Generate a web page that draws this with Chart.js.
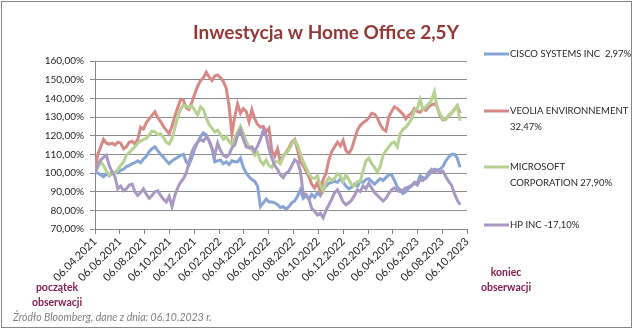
<!DOCTYPE html>
<html>
<head>
<meta charset="utf-8">
<script src="https://cdn.jsdelivr.net/npm/chart.js@4.4.0/dist/chart.umd.min.js"></script>
<style>
  html, body { margin: 0; padding: 0; background: #fff; }
  canvas { display: block; }
</style>
</head>
<body>
<canvas id="wykres" width="634" height="330"></canvas>
<script>
// Inwestycja w Home Office 2,5Y - notowania tygodniowe od 06.04.2021 (start = 100%)

const etykietyOsiX = ['06.04.2021', '06.06.2021', '06.08.2021', '06.10.2021', '06.12.2021', '06.02.2022',
  '06.04.2022', '06.06.2022', '06.08.2022', '06.10.2022', '06.12.2022', '06.02.2023',
  '06.04.2023', '06.06.2023', '06.08.2023', '06.10.2023'];

const nazwySpolek = ['CISCO SYSTEMS INC  2,97%', 'VEOLIA ENVIRONNEMENT 32,47%', 'MICROSOFT CORPORATION 27,90%', 'HP INC -17,10%'];
// legenda w liniach tak jak na oryginale
const legendaLinie = [['CISCO SYSTEMS INC  2,97%'], ['VEOLIA ENVIRONNEMENT', '32,47%'], ['MICROSOFT', 'CORPORATION 27,90%'], ['HP INC -17,10%']];
const kolory = ['#86a5d5', '#d68a87', '#b7d190', '#a898c4'];

const cisco = [101, 100, 99, 98, 99.5, 98.5, 100, 100.5, 100, 101.5,
  102, 103.5, 104, 105, 105.5, 106.5, 105.5, 107.5, 109, 111.5,
  113, 114, 112, 110, 108.5, 106.5, 105, 106.5, 107.5, 108.5,
  109.5, 110, 106, 104.5, 108.5, 113, 116.5, 119.5, 121.5, 120.5,
  117, 113, 106, 106.5, 107, 105, 106, 104.5, 106.5, 106,
  106, 108, 103, 100, 98, 96.5, 95.5, 93, 82, 84,
  86, 84.5, 84.5, 84, 83, 81.5, 82, 80.5, 82, 84,
  85, 87.5, 91, 86.5, 88, 86, 88.5, 87, 89.5, 88,
  91, 93, 94.5, 95, 95.5, 95, 97, 95, 93, 91.5,
  92.5, 94, 93, 95.5, 95, 96.5, 97, 95.5, 94, 95.5,
  97, 96, 97.5, 99, 99, 96, 92.5, 91, 89, 90,
  92, 93, 95, 94.5, 98.5, 97.5, 97, 99, 100.5, 102,
  101.5, 102, 103.5, 106.5, 108.5, 110, 110, 108, 103];

const veolia = [101.4, 110, 114, 118, 116, 115.5, 116, 115, 116.5, 116,
  113, 114, 116.5, 117, 115.5, 118, 124.5, 123.5, 127, 129,
  131, 132.8, 129.5, 127.5, 125, 123, 121, 125, 130.5, 135,
  139.5, 139, 135, 134, 138, 142.5, 146.5, 149.5, 151, 154,
  151.5, 149.5, 152, 152.5, 151, 149, 145.5, 136, 121, 130,
  137, 132, 134.5, 133, 127.5, 134, 129, 126, 124.5, 125,
  122, 124, 112, 109, 113, 106, 109, 111, 113.5, 116.5,
  118, 112.5, 106, 104, 101, 98, 94, 92, 95, 90,
  96.5, 100, 107, 111.5, 114, 116.5, 114.5, 117.5, 112, 110.5,
  113, 118, 123, 125.5, 127, 128, 129.5, 132, 131.5, 129.5,
  126, 123.5, 122.5, 130, 133, 135.5, 134.5, 133, 131.5, 129,
  131, 132, 134.5, 133, 132.5, 134.5, 133.5, 135.5, 136.5, 137,
  135.5, 130.5, 128.5, 129, 130.5, 132, 134, 136, 132];

const microsoft = [100.5, 103, 106, 104, 101, 99, 100.5, 100, 102, 104,
  106, 109.5, 111, 112.5, 114, 116, 117, 118, 118.5, 120.5,
  122.5, 122, 120.5, 121, 119, 116.5, 115.5, 118.5, 124, 130,
  134, 136.5, 136, 135, 136, 133.5, 131, 135.5, 134, 129.5,
  126, 124, 122, 123, 120.5, 118, 119.5, 117, 115, 118.5,
  122, 125, 121.5, 117, 114, 112.5, 109.5, 111, 106.5, 104.5,
  107, 104, 103, 106, 106, 105, 109, 110.5, 112.5, 115.5,
  117.5, 115, 110.5, 106, 103, 99.5, 97.5, 97, 98.5, 93.5,
  90.5, 95, 97.5, 96, 97, 99.5, 98.5, 95.5, 99, 96.5,
  93.5, 93, 95.5, 95.5, 101, 106.5, 108, 105, 103, 100.5,
  103.5, 109.5, 112, 114, 116, 116.5, 114, 121, 123.5, 124.5,
  126.5, 129, 133.5, 134.5, 139.5, 134, 135.5, 137, 139, 143.5,
  135, 131.5, 129, 128.5, 131, 132, 134, 136, 128];

const hp = [100.5, 104.5, 107, 108.5, 109.5, 104, 100.5, 98, 91.5, 93,
  90.5, 91.5, 93.5, 94, 90, 88, 89.5, 91.5, 88.5, 86.5,
  88, 90, 90.5, 88, 86, 84.5, 87.5, 82, 88, 92,
  95, 97, 100, 106, 111.5, 114.5, 116.5, 118, 117, 119.5,
  117.5, 113.5, 109.5, 116, 112, 109.5, 108.5, 110, 113.5, 115,
  120, 123, 118, 114, 113.5, 114, 111.5, 114.5, 118, 123,
  120, 113, 108, 104, 102, 99, 97.5, 100, 101, 104,
  107, 106, 101, 89, 88.5, 86, 81, 79.5, 77.5, 78.5,
  76, 80, 83, 86, 89.5, 91, 88, 84.5, 83, 84,
  85.5, 88, 91, 90, 93, 91.5, 94.5, 92, 89.5, 88,
  86.5, 85, 86.5, 89, 91, 92, 90.5, 90, 91, 92,
  92.5, 93.5, 94.5, 93.5, 96.5, 96, 97.5, 100.5, 102, 100.5,
  101.5, 100.5, 101, 98, 95.5, 93.5, 89, 85.5, 83];

const serie = [cisco, veolia, microsoft, hp];

// dni od poczatku obserwacji
function dzien(s) {
  const [d, m, r] = s.split('.').map(Number);
  return Date.UTC(r, m - 1, d) / 86400000;
}
const start = dzien(etykietyOsiX[0]);
const dniTickow = etykietyOsiX.map(s => dzien(s) - start);

const ozdoby = {
  id: 'ozdoby',
  afterDraw(chart) {
    const c = chart.ctx;
    c.save();
    // ramka
    c.strokeStyle = '#868686';
    c.lineWidth = 1;
    c.strokeRect(1.5, 1.5, 630, 326);

    // tytul
    c.fillStyle = '#953735';
    c.font = 'bold 19px Lato';
    c.textAlign = 'center';
    c.textBaseline = 'middle';
    c.fillText('Inwestycja w Home Office 2,5Y', 326, 33);

    // legenda
    const yLeg = [54, 111, 167, 225];
    c.font = '9.5px Lato';
    c.textAlign = 'left';
    legendaLinie.forEach((linie, i) => {
      c.strokeStyle = kolory[i];
      c.lineWidth = 3;
      c.beginPath();
      c.moveTo(484, yLeg[i]);
      c.lineTo(509, yLeg[i]);
      c.stroke();
      c.fillStyle = '#262626';
      linie.forEach((t, j) => c.fillText(t, 510, yLeg[i] + j * 16));
    });

    // poczatek / koniec
    c.fillStyle = '#85204f';
    c.font = 'bold 10.5px Lato';
    c.textAlign = 'center';
    c.fillText('początek', 57, 288);
    c.fillText('obserwacji', 57, 303);
    c.fillText('koniec', 506, 273);
    c.fillText('obserwacji', 506, 288);

    // zrodlo
    c.fillStyle = '#7f7f7f';
    c.font = 'italic 10.5px Lato';
    c.textAlign = 'left';
    c.fillText('Źródło Bloomberg, dane z dnia: 06.10.2023 r.', 13, 318);
    c.restore();
  }
};

const ctx = document.getElementById('wykres');
new Chart(ctx, {
  type: 'line',
  data: {
    datasets: serie.map((s, i) => ({
      label: nazwySpolek[i],
      data: s.map((v, k) => ({ x: k * 7, y: v })),
      borderColor: kolory[i],
      borderWidth: 3,
      pointRadius: 0,
      tension: 0,
      order: 4 - i
    }))
  },
  options: {
    responsive: false,
    animation: false,
    layout: { padding: { left: 0, right: 167, top: 61, bottom: 41 } },
    plugins: { legend: { display: false }, tooltip: { enabled: false } },
    scales: {
      x: {
        type: 'linear',
        min: 0,
        max: dniTickow[dniTickow.length - 1],
        afterBuildTicks: (os) => { os.ticks = dniTickow.map(v => ({ value: v })); },
        afterFit: (os) => { os.height = 60; },
        grid: { drawOnChartArea: false, drawTicks: true, tickLength: 5, color: '#868686' },
        border: { color: '#868686' },
        ticks: {
          autoSkip: false,
          minRotation: 45,
          maxRotation: 45,
          padding: 1,
          color: '#262626',
          font: { family: 'Lato', size: 11 },
          callback: (v, i) => etykietyOsiX[i]
        }
      },
      y: {
        min: 70,
        max: 160,
        afterFit: (os) => { os.width = 95; },
        grid: { color: '#8c8c8c', tickLength: 5 },
        border: { color: '#868686' },
        ticks: {
          stepSize: 10,
          padding: 6,
          color: '#262626',
          font: { family: 'Lato', size: 10 },
          callback: (v) => v.toFixed(2).replace('.', ',') + '%'
        }
      }
    }
  },
  plugins: [ozdoby]
});
</script>
</body>
</html>
